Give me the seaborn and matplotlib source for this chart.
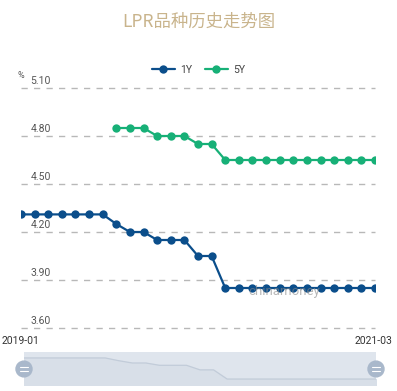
import pandas as pd
import matplotlib.pyplot as plt
import seaborn as sns
from matplotlib.lines import Line2D
from matplotlib.patches import Rectangle, Circle

# monthly LPR quotes, 2019-01 .. 2021-03
months = pd.period_range('2019-01', '2021-03', freq='M').strftime('%Y-%m').tolist()
rate_1y = [4.31, 4.31, 4.31, 4.31, 4.31, 4.31, 4.31, 4.25, 4.20, 4.20, 4.15, 4.15, 4.15,
           4.05, 4.05, 3.85, 3.85, 3.85, 3.85, 3.85, 3.85, 3.85, 3.85, 3.85, 3.85, 3.85, 3.85]
rate_5y = [None] * 7 + [4.85, 4.85, 4.85, 4.80, 4.80, 4.80, 4.75, 4.75, 4.65, 4.65, 4.65,
                        4.65, 4.65, 4.65, 4.65, 4.65, 4.65, 4.65, 4.65, 4.65]
y_ticks = [3.60, 3.90, 4.20, 4.50, 4.80, 5.10]

c1 = '#0b4e8b'
c5 = '#17b077'

df = pd.DataFrame({'month': months, 'idx': range(len(months)), '1Y': rate_1y, '5Y': rate_5y})
long_df = df.melt(id_vars=['month', 'idx'], value_vars=['1Y', '5Y'],
                  var_name='term', value_name='rate').dropna()

sns.set_style('white')
plt.rcParams['font.family'] = ['Roboto', 'Noto Sans CJK SC', 'DejaVu Sans']

fig = plt.figure(figsize=(3.97, 3.91), dpi=100)
ax = fig.add_axes([21 / 397, 1 - 328 / 391, 354 / 397, 240 / 391])

sns.lineplot(data=long_df, x='idx', y='rate', hue='term', palette={'1Y': c1, '5Y': c5},
             marker='o', markersize=6, markeredgewidth=0, linewidth=1.6, ax=ax, legend=False)

ax.set_xlim(0, len(months) - 1)
ax.set_ylim(3.60, 5.10)
ax.set_yticks(y_ticks)
ax.set_yticklabels([])
ax.set_xticks([])
ax.set_xlabel('')
ax.set_ylabel('')
ax.set_facecolor('none')
for s in ax.spines.values():
    s.set_visible(False)
for v in y_ticks:
    ax.axhline(v, color='#b8b8b8', linewidth=1, linestyle=(0, (4.5, 4.5)), zorder=0, clip_on=False)
    ax.text(0.7, v + 0.012, f'{v:.2f}', fontsize=7.5, color='#555555', ha='left', va='bottom')
ax.tick_params(left=False, bottom=False)

fig.text(18 / 397, 1 - 75 / 391, '%', fontsize=6.5, color='#555555', ha='left', va='center')
fig.text(0.5, 1 - 22 / 391, 'LPR品种历史走势图', fontsize=12.5, color='#c9b48c',
         ha='center', va='center', family=['Noto Sans CJK SC', 'DejaVu Sans'])

handles = [Line2D([], [], color=c1, marker='o', markersize=6, markeredgewidth=0, linewidth=1.6),
           Line2D([], [], color=c5, marker='o', markersize=6, markeredgewidth=0, linewidth=1.6)]
fig.legend(handles, ['1Y', '5Y'], loc='center', bbox_to_anchor=(0.5, 1 - 70 / 391), ncol=2,
           frameon=False, fontsize=7.5, handlelength=2.2, columnspacing=1.2, handletextpad=0.5,
           labelcolor='#444444')

# watermark
ax.text(0.743, 0.15, 'chinamoney', transform=ax.transAxes, fontsize=9.5, color='#888888',
        alpha=0.6, ha='center', va='center')

# x range labels
fig.text(2 / 397, 1 - 341 / 391, months[0], fontsize=7.5, color='#333333', ha='left', va='center')
fig.text(392 / 397, 1 - 341 / 391, months[-1], fontsize=7.5, color='#333333', ha='right', va='center')

# data zoom slider
sx = fig.add_axes([24 / 397, 1 - 385 / 391, 352 / 397, 33 / 391])
sx.add_patch(Rectangle((0, 0), 1, 1, transform=sx.transAxes, color='#dfe5ed', zorder=0))
sns.lineplot(x=df['idx'], y=df['1Y'], color='#c2ccd9', linewidth=0.9, ax=sx)
sx.fill_between(df['idx'], df['1Y'], 3.72, color='#d8dfe8', zorder=1)
sx.set_xlim(0, len(months) - 1)
sx.set_ylim(3.72, 4.44)
sx.axis('off')
for hx in [24, 376]:
    fig.patches.append(Circle((hx / 397, 1 - 369 / 391), 8 / 397, transform=fig.transFigure,
                              color='#a9b8cb', zorder=5))
    for dy in [-2, 2]:
        fig.lines.append(Line2D([(hx - 4) / 397, (hx + 4) / 397], [1 - (369 + dy) / 391] * 2,
                                transform=fig.transFigure, color='white', linewidth=0.8, zorder=6))

fig.savefig('out.png', dpi=100)
